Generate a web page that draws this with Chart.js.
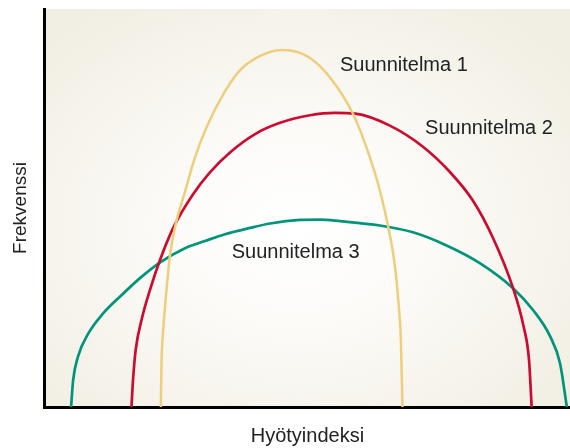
<!DOCTYPE html>
<html>
<head>
<meta charset="utf-8">
<script src="https://cdn.jsdelivr.net/npm/chart.js@4/dist/chart.umd.min.js"></script>
<style>
  html, body { margin: 0; padding: 0; background: #fff; }
  #wrap { width: 570px; height: 448px; }
</style>
</head>
<body>
<div id="wrap"><canvas id="chart"></canvas></div>
<script>
// series names
const planNames = ['Suunnitelma 1', 'Suunnitelma 2', 'Suunnitelma 3'];

// benefit index (x) and frequency (y), 0..100 scale
const plan1X = [22.1, 22.2, 22.5, 23.0, 23.8, 24.8, 26.7, 28.6, 30.8, 34.0, 37.1, 41.0, 45.1, 46.7, 50.5, 54.3, 58.7, 61.9, 63.8, 65.4, 66.7, 67.3, 67.8, 68.1];
const plan1Y = [0, 10.1, 18.5, 26.8, 37.7, 45.2, 54.1, 62.7, 70.3, 78.6, 84.5, 88.2, 89.7, 89.6, 87.7, 82.8, 73.6, 62.7, 54.4, 45.2, 35.1, 26.8, 16.8, 0];

const plan2X = [16.5, 16.8, 17.3, 18.5, 20.0, 21.9, 24.4, 28.2, 31.4, 35.2, 40.2, 44.8, 50.5, 55.2, 59.1, 65.7, 72.0, 77.1, 81.5, 85.3, 89.1, 91.1, 92.2, 92.7];
const plan2Y = [0, 6.8, 14.3, 22.3, 29.3, 36.8, 44.9, 53.4, 58.9, 63.9, 68.7, 71.4, 73.3, 73.9, 73.7, 70.7, 65.4, 59.1, 51.9, 42.6, 30.1, 20.6, 11.8, 0];

const plan3X = [5.0, 5.4, 6.3, 8.3, 11.1, 14.6, 18.4, 21.9, 26.7, 30.5, 34.3, 39.1, 42.9, 48.6, 52.4, 56.2, 63.8, 70.1, 76.5, 82.9, 89.2, 93.0, 96.2, 98.1, 99.4];
const plan3Y = [0, 6.8, 12.6, 18.5, 23.5, 28.1, 32.7, 36.3, 39.9, 41.7, 43.4, 45.0, 46.1, 47.0, 47.1, 46.7, 45.6, 43.9, 40.6, 36.1, 29.8, 24.3, 17.8, 11.0, 0];

// where the curve names sit, in data units (left edge, baseline)
const nameX = [56.2, 72.4, 35.6];
const nameY = [84.3, 68.6, 37.5];

const planColors = ['#EECD7C', '#CB0B30', '#00947A'];

function toPoints(xs, ys) {
    let pts = [];
    for (let i = 0; i < xs.length; i++) {
        pts.push({ x: xs[i], y: ys[i] });
    }
    return pts;
}

function curve(i, xs, ys, w) {
    return {
        label: planNames[i],
        data: toPoints(xs, ys),
        borderColor: planColors[i],
        borderWidth: w,
        pointRadius: 0,
        fill: false,
        cubicInterpolationMode: 'monotone'
    };
}

const paper = {
    id: 'paper',
    beforeDraw(chart) {
        const a = chart.chartArea;
        const ctx = chart.ctx;
        ctx.save();
        const cx = a.left + (a.right - a.left) * 0.48;
        const cy = a.top + (a.bottom - a.top) * 0.55;
        ctx.translate(cx, cy);
        ctx.scale(1.3, 1);
        const g = ctx.createRadialGradient(0, 0, 0, 0, 0, 270);
        g.addColorStop(0, '#ffffff');
        g.addColorStop(0.35, '#fcfbf8');
        g.addColorStop(0.7, '#f6f4ec');
        g.addColorStop(1, '#f1eee3');
        ctx.fillStyle = g;
        ctx.fillRect((a.left - cx) / 1.3, a.top - cy, (a.right - a.left) / 1.3, a.bottom - a.top);
        ctx.restore();
    }
};

const names = {
    id: 'names',
    afterDatasetsDraw(chart) {
        const ctx = chart.ctx;
        const xs = chart.scales.x, ys = chart.scales.y;
        ctx.save();
        ctx.font = "20px 'Liberation Sans', Arial, sans-serif";
        ctx.fillStyle = '#222';
        ctx.textAlign = 'left';
        ctx.textBaseline = 'alphabetic';
        for (let i = 0; i < planNames.length; i++) {
            ctx.fillText(planNames[i], xs.getPixelForValue(nameX[i]), ys.getPixelForValue(nameY[i]));
        }
        ctx.restore();
    }
};

Chart.defaults.font.family = "'Liberation Sans', Arial, sans-serif";
Chart.defaults.color = '#222';

const ctx = document.getElementById('chart').getContext('2d');
const chart = new Chart(ctx, {
    type: 'line',
    data: {
        datasets: [
            curve(0, plan1X, plan1Y, 2.5),
            curve(1, plan2X, plan2Y, 2.7),
            curve(2, plan3X, plan3Y, 2.7)
        ]
    },
    options: {
        responsive: true,
        maintainAspectRatio: false,
        animation: false,
        events: [],
        layout: { padding: { top: 9, right: 0, bottom: 0, left: 0 } },
        plugins: {
            legend: { display: false },
            tooltip: { enabled: false }
        },
        scales: {
            x: {
                type: 'linear',
                min: 0,
                max: 100,
                ticks: { display: false },
                grid: { display: false, drawTicks: false },
                border: { display: true, color: '#000', width: 3 },
                title: {
                    display: true,
                    text: 'Hyötyindeksi',
                    font: { size: 20 },
                    color: '#222',
                    padding: { top: 17, bottom: 0 }
                }
            },
            y: {
                type: 'linear',
                min: 0,
                max: 100,
                ticks: { display: false },
                grid: { display: false, drawTicks: false },
                border: { display: true, color: '#000', width: 3 },
                title: {
                    display: true,
                    text: 'Frekvenssi',
                    font: { size: 19 },
                    color: '#222',
                    padding: { top: 9, bottom: 13 }
                }
            }
        }
    },
    plugins: [paper, names]
});
</script>
</body>
</html>
